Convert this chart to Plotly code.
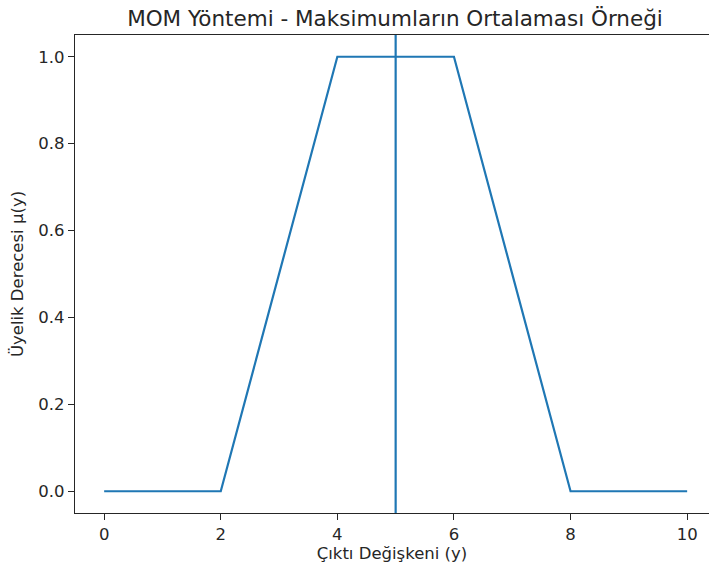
import plotly.graph_objects as go

# Data
y_values = [0, 2, 4, 6, 8, 10]
membership = [0, 0, 1, 1, 0, 0]
mom_value = 5  # mean of maxima (4..6)
x_ticks = [0, 2, 4, 6, 8, 10]
y_ticks = [0.0, 0.2, 0.4, 0.6, 0.8, 1.0]

blue = "#1f77b4"
font_family = "DejaVu Sans"

fig = go.Figure()
fig.add_trace(go.Scatter(x=y_values, y=membership, mode="lines",
                         line=dict(color=blue, width=2.2), showlegend=False))
fig.add_trace(go.Scatter(x=[mom_value, mom_value], y=[-0.05, 1.05], mode="lines",
                         line=dict(color=blue, width=2.2), showlegend=False))

fig.update_layout(
    width=709, height=574,
    margin=dict(l=75, r=0, t=35, b=61),
    paper_bgcolor="white", plot_bgcolor="white",
    font=dict(family=font_family, color="#262626", size=16),
    title=dict(text="MOM Yöntemi - Maksimumların Ortalaması Örneği",
               x=395 / 709, xref="container", xanchor="center",
               y=1 - 18 / 574, yref="container", yanchor="middle",
               font=dict(size=21.5, family=font_family, color="#262626")),
    xaxis=dict(range=[-0.5, -0.5 + (709 - 75) / 58.3], tickvals=x_ticks,
               ticks="outside", ticklen=6, tickwidth=1.2, tickcolor="#262626",
               showline=True, linecolor="#262626", linewidth=1.2, mirror=True,
               showgrid=False, zeroline=False,
               tickfont=dict(size=16.5),
               title=dict(text="Çıktı Değişkeni (y)", font=dict(size=16.5), standoff=3)),
    yaxis=dict(range=[-0.05, 1.05], tickvals=y_ticks, tickformat=".1f",
               ticks="outside", ticklen=6, tickwidth=1.2, tickcolor="#262626",
               showline=True, linecolor="#262626", linewidth=1.2, mirror=False,
               showgrid=False, zeroline=False,
               tickfont=dict(size=16.5),
               title=dict(text="Üyelik Derecesi µ(y)", font=dict(size=16.5), standoff=10)),
)

fig.write_html("out.html")
